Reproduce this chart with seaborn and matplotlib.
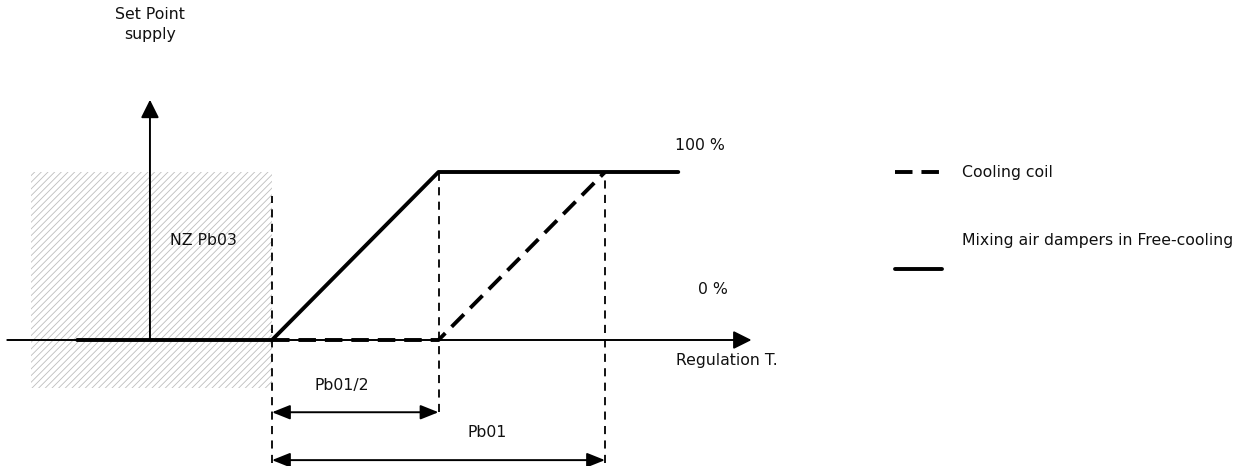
import numpy as np
import matplotlib
matplotlib.use("Agg")
import matplotlib.pyplot as plt
import seaborn as sns

# ---------------------------------------------------
# Diagram data (x = regulation T in units of Pb01/2, y = % output)
# ---------------------------------------------------
damper_t = [-1.17, 0.0, 1.0, 2.44]      # mixing air dampers in free-cooling
damper_pct = [0, 0, 100, 100]
coil_t = [0.0, 1.0, 2.0]                 # cooling coil
coil_pct = [0, 0, 100]
nz_band = [-1.45, 0.0]                   # neutral zone Pb03
nz_pct = [-28.6, 100]
guide_t = [0.0, 1.0, 2.0]                # vertical guide lines
guide_top = [86, 100, 100]
guide_bottom = [-73, -43, -73]

# ---------------------------------------------------
# Figure setup
# ---------------------------------------------------
sns.set_style("white")
plt.rcParams["font.family"] = ["DejaVu Sans"]
plt.rcParams["text.color"] = "#111111"
plt.rcParams["hatch.linewidth"] = 0.6

fig = plt.figure(figsize=(12.45, 4.66), dpi=100)
ax = fig.add_axes([0, 0, 1, 1])
ax.set_xlim(-272 / 166.5, (1245 - 272) / 166.5)
ax.set_ylim(-126 / 1.68, 340 / 1.68)
ax.axis("off")

# shaded neutral zone
ax.fill_between(nz_band, nz_pct[0], nz_pct[1], facecolor="white",
                edgecolor="#bdbdbd", hatch="/////", linewidth=0, zorder=0)

# axes arrows
axis_head = "-|>,head_length=1.0,head_width=0.5"
ax.annotate("", xy=(2.88, 0), xytext=(-1.59, 0),
            arrowprops=dict(arrowstyle=axis_head, color="black", lw=1.4,
                            mutation_scale=11, shrinkA=0, shrinkB=0))
ax.annotate("", xy=(-0.733, 143), xytext=(-0.733, 0),
            arrowprops=dict(arrowstyle=axis_head, color="black", lw=1.4,
                            mutation_scale=11, shrinkA=0, shrinkB=0))

# vertical dashed guides
for t, top, bot in zip(guide_t, guide_top, guide_bottom):
    ax.plot([t, t], [bot, top], color="black", lw=1.3,
            linestyle=(0, (4.5, 3.5)), zorder=1)

# curves
sns.lineplot(x=damper_t, y=damper_pct, ax=ax, color="black", lw=2.8,
             zorder=3)
sns.lineplot(x=coil_t, y=coil_pct, ax=ax, color="black", lw=2.8,
             linestyle=(0, (4.5, 2.3)), zorder=3)

# dimension arrows
dim_head = "<|-|>,head_length=1.0,head_width=0.4"
ax.annotate("", xy=(1.0, -43), xytext=(0.0, -43),
            arrowprops=dict(arrowstyle=dim_head, color="black", lw=1.4,
                            mutation_scale=11, shrinkA=0, shrinkB=0))
ax.annotate("", xy=(2.0, -71.5), xytext=(0.0, -71.5),
            arrowprops=dict(arrowstyle=dim_head, color="black", lw=1.4,
                            mutation_scale=11, shrinkA=0, shrinkB=0))

# labels
fs = 11.3
ax.text(-0.733, 188, "Set Point\nsupply", ha="center", va="center",
        fontsize=fs, linespacing=1.4)
ax.text(-0.41, 59.5, "NZ Pb03", ha="center", va="center", fontsize=fs)
ax.text(2.57, 116, "100 %", ha="center", va="center", fontsize=fs)
ax.text(2.65, 30, "0 %", ha="center", va="center", fontsize=fs)
ax.text(2.73, -12, "Regulation T.", ha="center", va="center", fontsize=fs)
ax.text(0.42, -27, "Pb01/2", ha="center", va="center", fontsize=fs)
ax.text(1.29, -55, "Pb01", ha="center", va="center", fontsize=fs)

# legend drawn by hand
ax.plot([(895 - 272) / 166.5, (942 - 272) / 166.5], [100, 100],
        color="black", lw=2.8, linestyle=(0, (4.5, 2.3)))
ax.text((962 - 272) / 166.5, 100, "Cooling coil", ha="left", va="center",
        fontsize=fs)
ax.plot([(895 - 272) / 166.5, (942 - 272) / 166.5], [42.5, 42.5],
        color="black", lw=2.8)
ax.text((962 - 272) / 166.5, 59, "Mixing air dampers in Free-cooling",
        ha="left", va="center", fontsize=fs)

plt.savefig("out.png", dpi=100)
